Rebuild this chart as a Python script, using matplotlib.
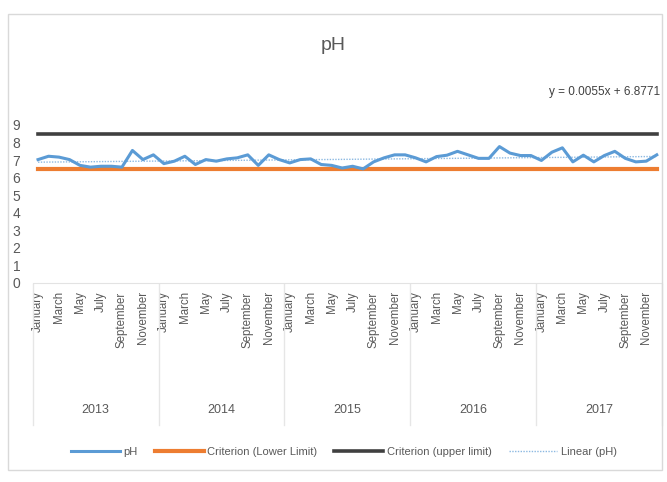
import matplotlib.pyplot as plt
from matplotlib.patches import Rectangle
import matplotlib.transforms as mtransforms

plt.rcParams['font.family'] = ['Liberation Sans', 'DejaVu Sans']

# monthly pH readings, Jan 2013 - Dec 2017
years = ['2013', '2014', '2015', '2016', '2017']
months = ['January', 'February', 'March', 'April', 'May', 'June', 'July',
          'August', 'September', 'October', 'November', 'December']
ph = [7.03, 7.22, 7.17, 7.03, 6.70, 6.60, 6.65, 6.65, 6.60, 7.55, 7.03, 7.30,
      6.80, 6.94, 7.22, 6.75, 7.03, 6.94, 7.07, 7.13, 7.30, 6.70, 7.30, 7.03,
      6.84, 7.03, 7.07, 6.75, 6.70, 6.55, 6.65, 6.50, 6.90, 7.13, 7.30, 7.30,
      7.13, 6.90, 7.20, 7.28, 7.50, 7.30, 7.10, 7.10, 7.77, 7.40, 7.26, 7.26,
      6.98, 7.45, 7.70, 6.90, 7.28, 6.90, 7.26, 7.50, 7.10, 6.90, 6.94, 7.30]
lower_limit = 6.5
upper_limit = 8.5
slope, intercept = 0.0055, 6.8771

n = len(ph)
idx = list(range(n))
trend = [slope * (i + 1) + intercept for i in idx]

text_col = '#595959'

fig = plt.figure(figsize=(6.67, 4.82), dpi=100)
fig.patches.append(Rectangle((8 / 667, 12 / 482), 654 / 667, 456 / 482,
                             transform=fig.transFigure, fill=False,
                             edgecolor='#d9d9d9', lw=1))
ax = fig.add_axes([32.8 / 667, 1 - 283 / 482, (662 - 32.8) / 667, 158 / 482])

ax.plot(idx, [upper_limit] * n, color='#404040', lw=2.6, label='Criterion (upper limit)', zorder=2)
ax.plot(idx, [lower_limit] * n, color='#ED7D31', lw=3.0, label='Criterion (Lower Limit)', zorder=2)
ax.plot(idx, ph, color='#5B9BD5', lw=2.2, label='pH', zorder=3)
ax.plot(idx, trend, color='#5B9BD5', lw=1.0, ls=(0, (1, 1)), alpha=0.7, label='Linear (pH)', zorder=4)

ax.set_xlim(-0.5, n - 0.5)
ax.set_ylim(0, 9)
ax.set_yticks(range(10))
ax.tick_params(axis='y', length=0, labelsize=10, colors=text_col, pad=9)
for s in ['top', 'right', 'left']:
    ax.spines[s].set_visible(False)
ax.spines['bottom'].set_color('#e3e3e3')

ax.set_xticks(idx[::2])
ax.set_xticklabels(months[::2] * len(years), rotation=90, fontsize=8.3, color=text_col)
ax.tick_params(axis='x', length=0, pad=6)

# year group labels and separators below the month labels
trans = mtransforms.blended_transform_factory(ax.transData, fig.transFigure)
for k, yr in enumerate(years):
    ax.text(12 * k + 5.5, 1 - 410 / 482, yr, transform=trans, ha='center', va='center',
            fontsize=9, color=text_col)
for k in range(len(years) + 1):
    ax.plot([12 * k - 0.5] * 2, [1 - 284 / 482, 1 - 425 / 482], transform=trans,
            color='#e6e6e6', lw=1, clip_on=False)

fig.text(0.5, 1 - 45 / 482, 'pH', ha='center', va='center', fontsize=14, color=text_col)
fig.text(660 / 667, 1 - 92 / 482, 'y = 0.0055x + 6.8771', ha='right', va='center',
         fontsize=8.5, color='#404040')

handles, labels = ax.get_legend_handles_labels()
order = [2, 1, 0, 3]
fig.legend([handles[i] for i in order], [labels[i] for i in order],
           loc='center', bbox_to_anchor=(0.516, 1 - 452 / 482), ncol=4, frameon=False,
           fontsize=8, labelcolor=text_col, handlelength=4.4, handletextpad=0.35,
           columnspacing=1.5)

fig.savefig('out.png', dpi=100)
